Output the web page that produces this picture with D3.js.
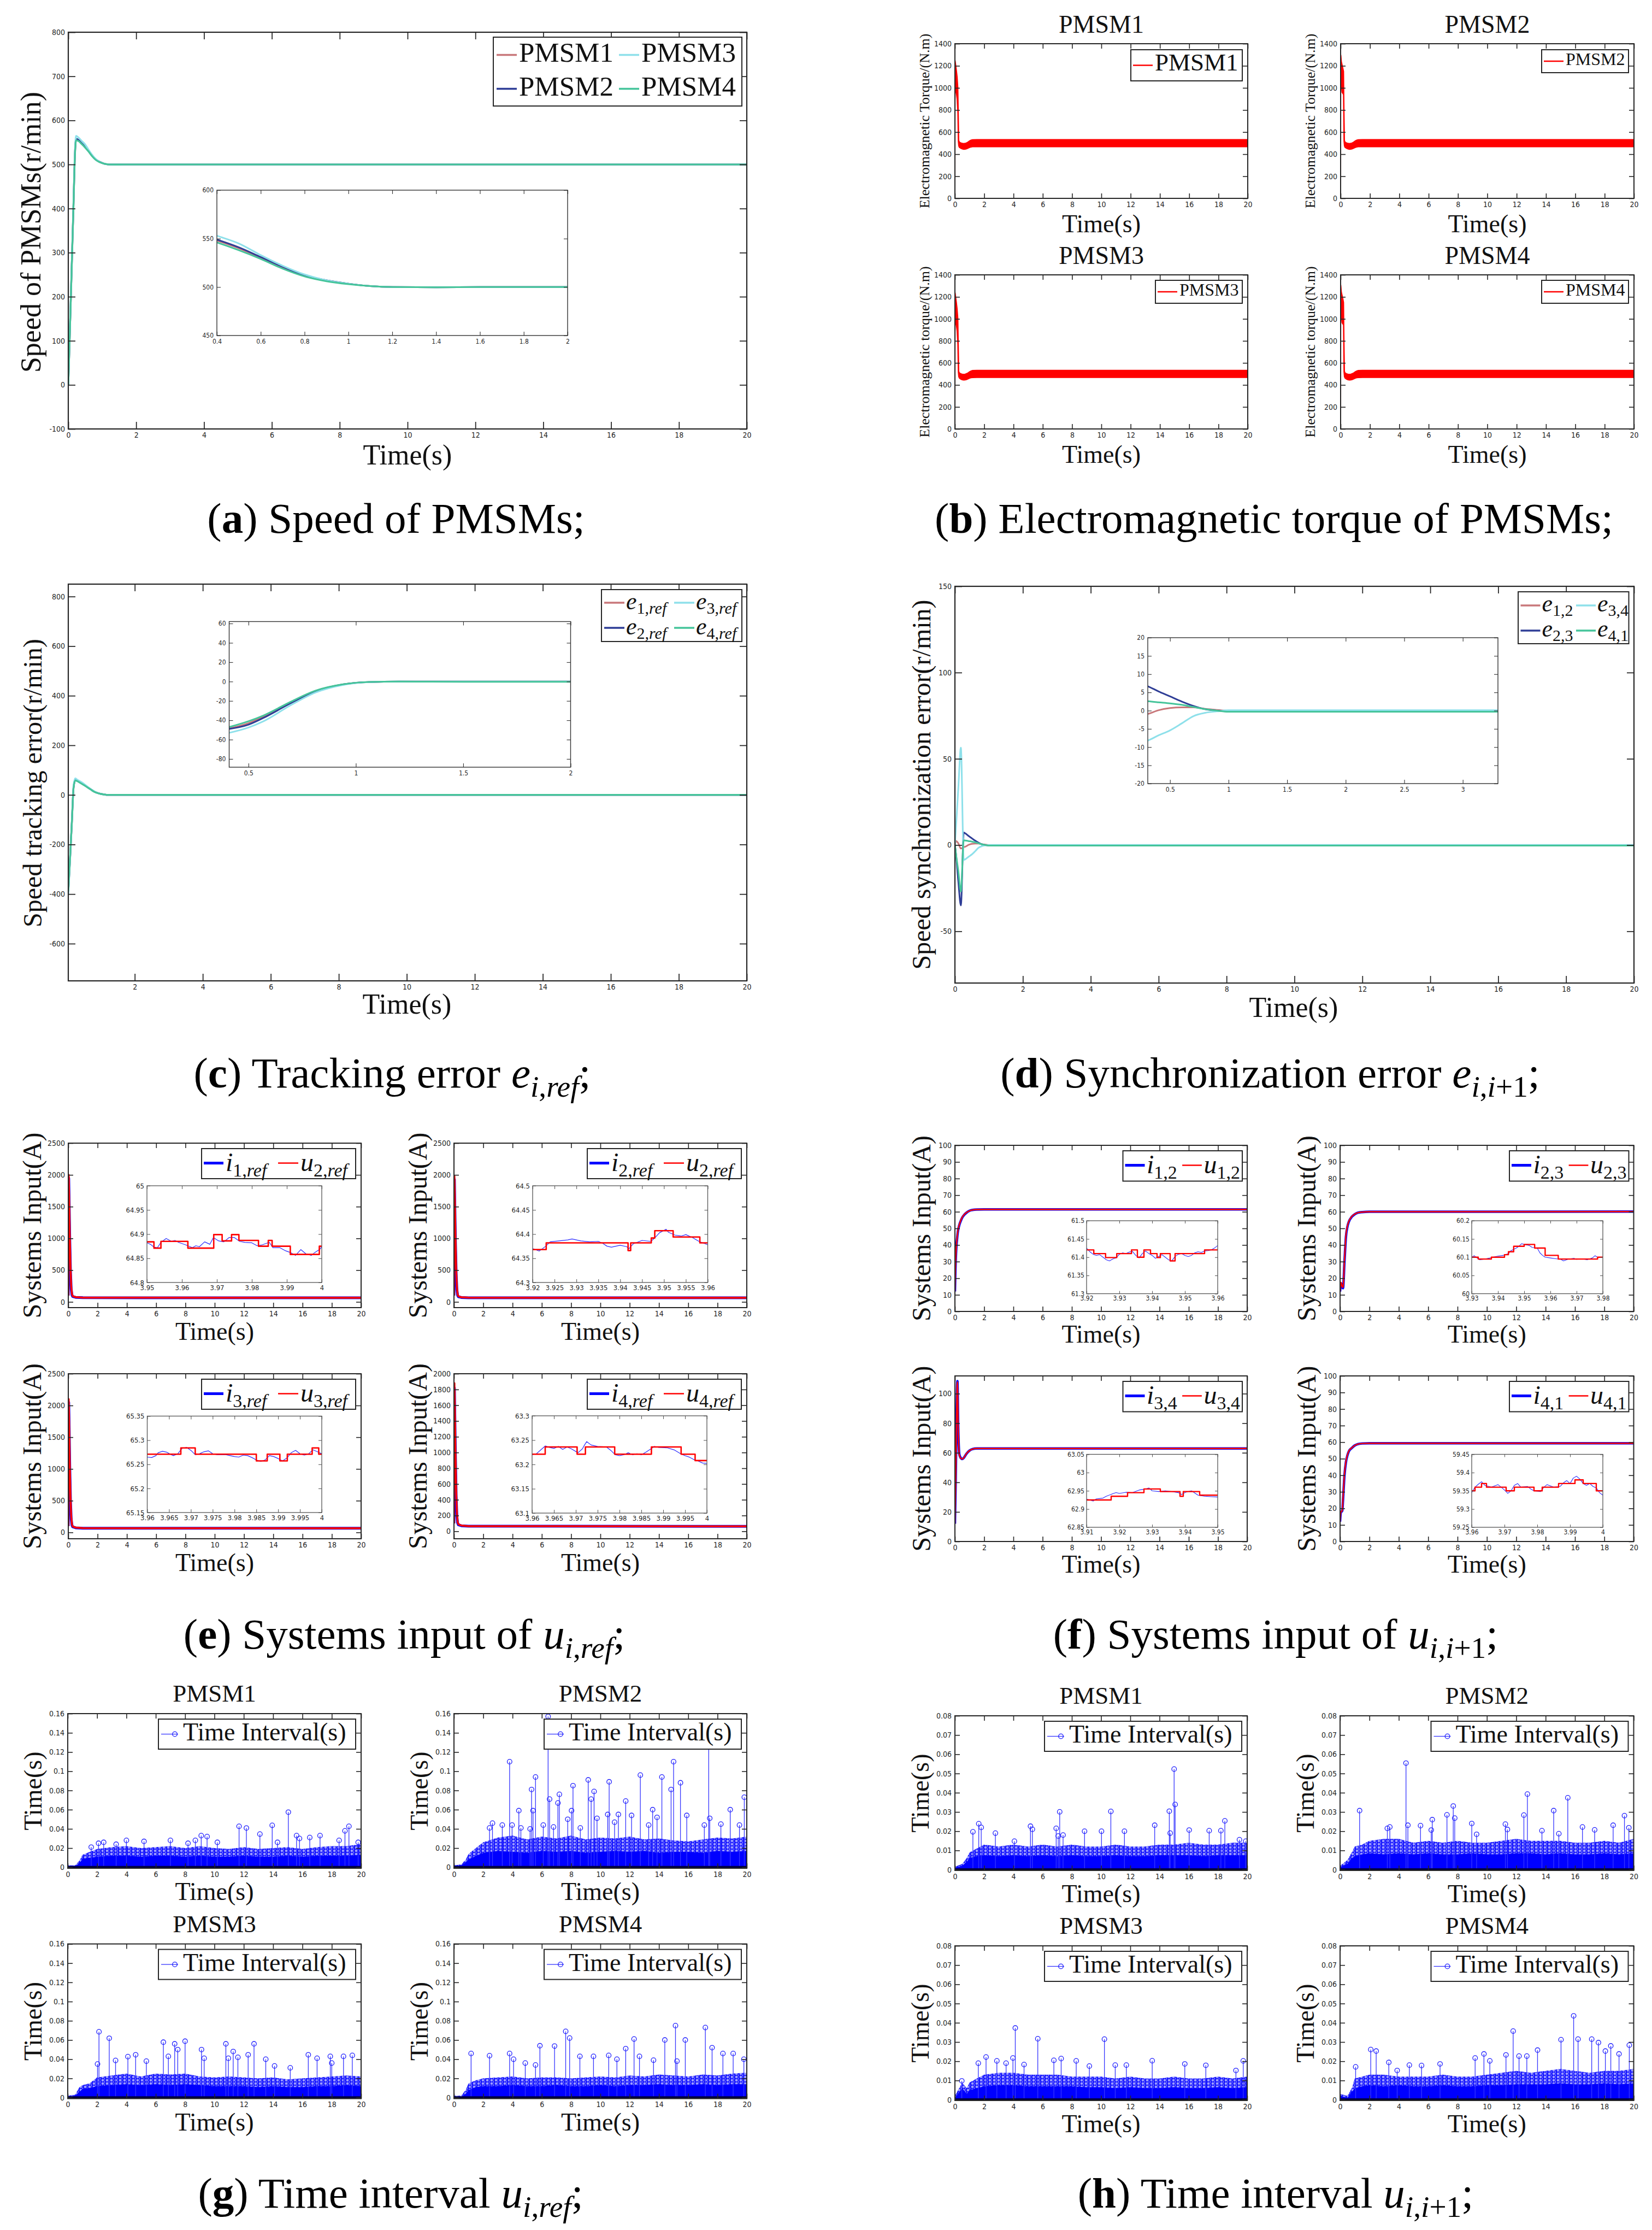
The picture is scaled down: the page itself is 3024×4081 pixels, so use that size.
<!DOCTYPE html>
<html>
<head>
<meta charset="utf-8">
<script src="https://cdn.jsdelivr.net/npm/d3@7"></script>
<style>
  body { margin: 0; background: #fff; }
  svg { display: block; }
</style>
</head>
<body>
<script>
// ---------------- data ----------------

// tick labels
const ticksT20 = [0, 2, 4, 6, 8, 10, 12, 14, 16, 18, 20];
const ticksT20no0 = [2, 4, 6, 8, 10, 12, 14, 16, 18, 20];
const speedTicksY = [-100, 0, 100, 200, 300, 400, 500, 600, 700, 800];
const speedZoomTicksX = [0.4, 0.6, 0.8, 1, 1.2, 1.4, 1.6, 1.8, 2];
const speedZoomTicksY = [450, 500, 550, 600];
const torqueTicksY = [0, 200, 400, 600, 800, 1000, 1200, 1400];
const trackTicksY = [-600, -400, -200, 0, 200, 400, 600, 800];
const trackZoomTicksX = [0.5, 1, 1.5, 2];
const trackZoomTicksY = [-80, -60, -40, -20, 0, 20, 40, 60];
const syncTicksY = [-50, 0, 50, 100, 150];
const syncZoomTicksX = [0.5, 1, 1.5, 2, 2.5, 3];
const syncZoomTicksY = [-20, -15, -10, -5, 0, 5, 10, 15, 20];
const refInputTicksY = [0, 500, 1000, 1500, 2000, 2500];
const refInputTicksY4 = [0, 200, 400, 600, 800, 1000, 1200, 1400, 1600, 1800, 2000];
const syncInputTicksY = [0, 10, 20, 30, 40, 50, 60, 70, 80, 90, 100];
const syncInputTicksY3 = [0, 20, 40, 60, 80, 100];
const intervalTicksG = [0, 0.02, 0.04, 0.06, 0.08, 0.1, 0.12, 0.14, 0.16];
const intervalTicksH = [0, 0.01, 0.02, 0.03, 0.04, 0.05, 0.06, 0.07, 0.08];
const e1ZoomTicksX = [3.95, 3.96, 3.97, 3.98, 3.99, 4];
const e1ZoomTicksY = [64.8, 64.85, 64.9, 64.95, 65];
const e2ZoomTicksX = [3.92, 3.925, 3.93, 3.935, 3.94, 3.945, 3.95, 3.955, 3.96];
const e2ZoomTicksY = [64.3, 64.35, 64.4, 64.45, 64.5];
const e3ZoomTicksX = [3.96, 3.965, 3.97, 3.975, 3.98, 3.985, 3.99, 3.995, 4];
const e3ZoomTicksY = [65.15, 65.2, 65.25, 65.3, 65.35];
const e4ZoomTicksY = [63.1, 63.15, 63.2, 63.25, 63.3];
const f1ZoomTicksX = [3.92, 3.93, 3.94, 3.95, 3.96];
const f1ZoomTicksY = [61.3, 61.35, 61.4, 61.45, 61.5];
const f2ZoomTicksX = [3.93, 3.94, 3.95, 3.96, 3.97, 3.98];
const f2ZoomTicksY = [60, 60.05, 60.1, 60.15, 60.2];
const f3ZoomTicksX = [3.91, 3.92, 3.93, 3.94, 3.95];
const f3ZoomTicksY = [62.85, 62.9, 62.95, 63, 63.05];
const f4ZoomTicksX = [3.96, 3.97, 3.98, 3.99, 4];
const f4ZoomTicksY = [59.25, 59.3, 59.35, 59.4, 59.45];

// (a) speed of PMSMs
const speedNames = ['PMSM1', 'PMSM2', 'PMSM3', 'PMSM4'];
const speedT = [0, 0.05, 0.1, 0.15, 0.2, 0.23, 0.3, 0.4, 0.5, 0.6, 0.7, 0.8, 0.9, 1.0, 1.1, 1.2, 1.4, 1.6, 2.0, 20];
const speed1 = [0, 130, 265, 400, 530, 557, 555, 548, 540, 530, 520, 512, 507, 503.5, 501, 500, 499.8, 500, 500, 500];
const speed2 = [0, 130, 265, 400, 532, 558, 556, 549, 541, 531, 521, 512, 507, 503.5, 501, 500, 499.8, 500, 500, 500];
const speed3 = [0, 132, 268, 405, 537, 565, 561, 553, 545, 533, 522, 513, 507, 503.5, 501, 500, 499.8, 500, 500, 500];
const speed4 = [0, 128, 262, 396, 527, 555, 553, 546, 538, 529, 519, 511, 506, 503, 501, 500, 499.8, 500, 500, 500];

// (b) electromagnetic torque, upper / lower edge of the ripple band
const torqueT = [0, 0.005, 0.02, 0.05, 0.1, 0.15, 0.2, 0.23, 0.26, 0.3, 0.4, 0.5, 0.6, 0.7, 0.8, 0.9, 1.0, 1.1, 1.2, 1.5, 20];
const tq1Hi = [0, 1250, 1240, 1210, 1160, 1100, 1000, 760, 525, 510, 502, 498, 496, 498, 503, 510, 520, 527, 531, 532, 532];
const tq1Lo = [0, 880, 1020, 990, 950, 900, 780, 520, 475, 462, 453, 447, 444, 445, 449, 455, 461, 465, 467, 468, 468];
const tq2Hi = [0, 1300, 1290, 1240, 1210, 1180, 1150, 800, 525, 510, 502, 498, 496, 498, 503, 510, 520, 527, 531, 532, 532];
const tq2Lo = [0, 950, 1080, 1050, 960, 950, 940, 520, 475, 462, 453, 447, 444, 445, 449, 455, 461, 465, 467, 468, 468];
const tq3Hi = [0, 1240, 1230, 1200, 1150, 1090, 1000, 760, 525, 510, 502, 498, 496, 498, 503, 510, 520, 527, 531, 532, 532];
const tq3Lo = [0, 870, 1010, 980, 940, 890, 770, 520, 475, 462, 453, 447, 444, 445, 449, 455, 461, 465, 467, 468, 468];
const tq4Hi = [0, 1310, 1295, 1245, 1215, 1185, 1150, 800, 525, 510, 502, 498, 496, 498, 503, 510, 520, 527, 531, 532, 532];
const tq4Lo = [0, 960, 1090, 1050, 965, 955, 945, 520, 475, 462, 453, 447, 444, 445, 449, 455, 461, 465, 467, 468, 468];

// (c) speed tracking error
const trackT = [0.045, 0.1, 0.15, 0.2, 0.25, 0.3, 0.4, 0.5, 0.6, 0.7, 0.8, 0.9, 1.0, 1.1, 1.2, 2, 20];
const track1 = [-390, -250, -110, 30, 60, 57, 50, 41, 32, 23, 14, 8, 4, 1.5, 0, 0, 0];
const track2 = [-392, -250, -110, 30, 61, 58, 51, 42, 32, 23, 14, 8, 4, 1.5, 0, 0, 0];
const track3 = [-400, -255, -105, 38, 67, 62, 54, 45, 34, 24, 15, 8, 4, 1.5, 0, 0, 0];
const track4 = [-388, -248, -112, 28, 58, 56, 48, 40, 31, 22, 13, 7.5, 4, 1.5, 0, 0, 0];
const trackZoomT = [0.41, 0.5, 0.57, 0.7, 0.81, 0.94, 1.06, 1.2, 1.5, 2];
const trackZoom1 = [-48.5, -43, -36, -21, -10, -3, -0.5, 0, 0, 0];
const trackZoom2 = [-49, -44.5, -37.5, -22, -10.5, -3, -0.5, 0, 0, 0];
const trackZoom3 = [-53, -47.5, -41, -24, -11.5, -3.5, -0.6, 0, 0, 0];
const trackZoom4 = [-47, -41, -35, -20.5, -9.5, -2.8, -0.4, 0, -0.3, -0.3];

// (d) speed synchronization error
const syncT = [0, 0.03, 0.1, 0.175, 0.26, 0.31, 0.4, 0.5, 0.6, 0.7, 0.8, 0.9, 1.0, 1.2, 1.5, 2, 3, 20];
const sync12 = [0, 2.4, 1, -2, -1.2, -0.9, 0.1, 0.7, 0.9, 0.9, 0.5, 0.2, 0, -0.1, -0.1, -0.1, -0.1, -0.1];
const sync23 = [0, -5, -21, -35, 7.3, 6.7, 5.3, 3.9, 2.5, 1.3, 0.4, 0, -0.2, -0.15, -0.1, -0.1, -0.1, -0.1];
const sync34 = [0, 10, 33, 56.5, -8.6, -8.2, -6.8, -5.4, -3.5, -1.5, -0.6, -0.2, 0.1, 0.1, 0.1, 0.1, 0.1, 0.1];
const sync41 = [0, -5, -15, -27, 2.8, 2.6, 2.3, 2.0, 1.6, 1.0, 0.4, 0, -0.3, -0.3, -0.3, -0.3, -0.3, -0.3];

// (e) systems input u_{i,ref}
const refInT = [0, 0.015, 0.03, 0.06, 0.1, 0.15, 0.2, 0.25, 0.3, 0.5, 1, 20];
const ref1i = [100, 1750, 1950, 1550, 1000, 480, 200, 110, 85, 72, 66, 65];
const ref1u = [100, 1900, 2000, 1650, 1080, 550, 240, 125, 92, 75, 67, 65];
const ref2i = [100, 1750, 1930, 1500, 950, 450, 190, 105, 82, 70, 65, 64.4];
const ref2u = [100, 1850, 1980, 1600, 1050, 520, 230, 120, 90, 73, 66, 64.4];
const ref3i = [100, 1850, 2050, 1650, 1050, 500, 210, 115, 88, 73, 66, 65.3];
const ref3u = [100, 2000, 2100, 1750, 1120, 560, 250, 128, 94, 76, 67, 65.3];
const ref4i = [100, 1600, 1820, 1450, 950, 450, 190, 105, 82, 70, 64, 63.2];
const ref4u = [100, 1750, 1880, 1550, 1020, 520, 230, 120, 90, 73, 65, 63.2];

const e1BlueT = [3.95, 3.951, 3.952, 3.953, 3.954, 3.9555, 3.957, 3.958, 3.959, 3.961, 3.963, 3.964, 3.965, 3.9665, 3.968, 3.969, 3.9705, 3.972, 3.9735, 3.975, 3.9765, 3.978, 3.98, 3.9815, 3.983, 3.985, 3.986, 3.988, 3.9895, 3.991, 3.9925, 3.994, 3.9955, 3.997, 3.998, 3.9995, 4.0];
const e1BlueV = [64.882, 64.879, 64.873, 64.872, 64.883, 64.891, 64.885, 64.887, 64.883, 64.878, 64.872, 64.876, 64.874, 64.884, 64.879, 64.893, 64.886, 64.884, 64.893, 64.893, 64.885, 64.883, 64.882, 64.876, 64.878, 64.883, 64.872, 64.872, 64.866, 64.862, 64.856, 64.868, 64.859, 64.856, 64.862, 64.869, 64.874];
const e1RedT = [3.95, 3.952, 3.954, 3.9617, 3.9691, 3.9715, 3.9742, 3.9763, 3.9819, 3.9847, 3.9858, 3.991, 3.9993, 4.0];
const e1RedV = [64.884, 64.871, 64.885, 64.871, 64.899, 64.886, 64.899, 64.887, 64.875, 64.887, 64.875, 64.858, 64.875, 64.875];
const e2BlueT = [3.92, 3.9215, 3.923, 3.924, 3.926, 3.928, 3.929, 3.931, 3.933, 3.935, 3.936, 3.937, 3.938, 3.94, 3.9415, 3.942, 3.943, 3.945, 3.947, 3.948, 3.949, 3.9505, 3.951, 3.9525, 3.954, 3.955, 3.9565, 3.958, 3.96];
const e2BlueV = [64.37, 64.365, 64.375, 64.384, 64.386, 64.388, 64.39, 64.386, 64.384, 64.385, 64.381, 64.375, 64.373, 64.377, 64.374, 64.37, 64.38, 64.387, 64.385, 64.393, 64.403, 64.41, 64.404, 64.398, 64.396, 64.399, 64.393, 64.385, 64.378];
const e2RedT = [3.92, 3.9231, 3.9418, 3.9424, 3.9471, 3.9479, 3.9521, 3.9582, 3.96];
const e2RedV = [64.368, 64.382, 64.366, 64.382, 64.392, 64.407, 64.394, 64.382, 64.382];
const e3BlueT = [3.96, 3.961, 3.962, 3.9625, 3.9635, 3.9645, 3.9655, 3.966, 3.967, 3.968, 3.969, 3.97, 3.971, 3.972, 3.973, 3.974, 3.975, 3.976, 3.978, 3.98, 3.981, 3.982, 3.983, 3.984, 3.985, 3.986, 3.987, 3.988, 3.989, 3.99, 3.991, 3.992, 3.993, 3.994, 3.995, 3.996, 3.997, 3.998, 3.999, 4.0];
const e3BlueV = [65.265, 65.264, 65.268, 65.274, 65.277, 65.275, 65.27, 65.268, 65.272, 65.283, 65.285, 65.279, 65.27, 65.272, 65.276, 65.278, 65.272, 65.27, 65.27, 65.266, 65.265, 65.269, 65.268, 65.264, 65.259, 65.256, 65.259, 65.268, 65.266, 65.262, 65.257, 65.263, 65.274, 65.279, 65.272, 65.269, 65.272, 65.28, 65.276, 65.272];
const e3RedT = [3.96, 3.9677, 3.971, 3.985, 3.9875, 3.9904, 3.9921, 3.9978, 3.9993, 4.0];
const e3RedV = [65.271, 65.284, 65.271, 65.257, 65.271, 65.257, 65.271, 65.284, 65.271, 65.271];
const e4BlueT = [3.96, 3.961, 3.962, 3.963, 3.964, 3.965, 3.966, 3.967, 3.968, 3.969, 3.9705, 3.9715, 3.972, 3.9725, 3.9735, 3.975, 3.977, 3.978, 3.979, 3.98, 3.981, 3.982, 3.983, 3.984, 3.985, 3.986, 3.987, 3.988, 3.989, 3.991, 3.9925, 3.994, 3.995, 3.996, 3.997, 3.998, 3.999, 4.0];
const e4BlueV = [63.22, 63.222, 63.23, 63.238, 63.235, 63.233, 63.237, 63.231, 63.236, 63.232, 63.224, 63.232, 63.24, 63.247, 63.24, 63.237, 63.236, 63.229, 63.22, 63.218, 63.22, 63.224, 63.22, 63.222, 63.22, 63.225, 63.231, 63.237, 63.235, 63.234, 63.23, 63.222, 63.218, 63.215, 63.21, 63.207, 63.203, 63.202];
const e4RedT = [3.96, 3.963, 3.9703, 3.9722, 3.9789, 3.9873, 3.9941, 3.9973, 4.0];
const e4RedV = [63.221, 63.236, 63.221, 63.236, 63.221, 63.236, 63.221, 63.208, 63.208];

// (f) systems input u_{i,i+1}
const syncInT = [0, 0.03, 0.06, 0.1, 0.15, 0.2, 0.3, 0.4, 0.5, 0.6, 0.8, 1.0, 1.2, 1.5, 2, 20];
const in12i = [12, 24, 32, 39, 44, 48, 52, 54.5, 56.5, 57.8, 59.5, 60.6, 61.1, 61.35, 61.4, 61.4];
const in12u = [12, 25, 33, 39.5, 44.5, 48.5, 52.3, 54.8, 56.7, 58, 59.6, 60.6, 61.1, 61.35, 61.4, 61.4];
const in23i = [12, 15, 17, 16, 14.5, 14, 30, 45, 51, 54, 57, 58.5, 59.4, 59.8, 60, 60.1];
const in23u = [12, 15.5, 17.5, 16.5, 15, 14.5, 31, 46, 51.5, 54.3, 57.2, 58.6, 59.4, 59.8, 60, 60.1];
const in34T = [0, 0.05, 0.1, 0.17, 0.22, 0.3, 0.4, 0.5, 0.6, 0.8, 1.0, 1.2, 1.5, 2, 20];
const in34i = [12, 40, 75, 108.5, 80, 59, 56.5, 55.8, 56.5, 59.5, 61.5, 62.5, 62.9, 62.95, 62.95];
const in34u = [12, 41, 76, 108, 79, 58.5, 56.3, 55.8, 56.6, 59.6, 61.5, 62.5, 62.9, 62.95, 62.95];
const in41i = [12, 16, 18, 18, 18.5, 25, 40, 48, 52, 54.5, 56.5, 58, 58.8, 59.2, 59.35, 59.35];
const in41u = [12, 16.5, 18, 18.2, 18.8, 26, 41, 48.5, 52.3, 54.7, 56.6, 58, 58.8, 59.2, 59.35, 59.35];

const f1BlueT = [3.92, 3.921, 3.922, 3.923, 3.924, 3.925, 3.926, 3.927, 3.928, 3.929, 3.93, 3.931, 3.932, 3.933, 3.934, 3.935, 3.936, 3.937, 3.938, 3.939, 3.94, 3.941, 3.942, 3.943, 3.944, 3.945, 3.946, 3.947, 3.948, 3.949, 3.95, 3.951, 3.952, 3.953, 3.954, 3.955, 3.956, 3.957, 3.958, 3.959, 3.96];
const f1BlueV = [61.425, 61.415, 61.408, 61.405, 61.407, 61.4, 61.393, 61.39, 61.395, 61.398, 61.408, 61.412, 61.41, 61.414, 61.416, 61.405, 61.398, 61.41, 61.417, 61.41, 61.405, 61.397, 61.402, 61.407, 61.4, 61.393, 61.39, 61.402, 61.408, 61.41, 61.405, 61.402, 61.405, 61.412, 61.415, 61.413, 61.417, 61.418, 61.42, 61.425, 61.432];
const f1RedT = [3.92, 3.9222, 3.9258, 3.9292, 3.9337, 3.9355, 3.9375, 3.9395, 3.9415, 3.9425, 3.9455, 3.947, 3.956, 3.96];
const f1RedV = [61.42, 61.41, 61.399, 61.41, 61.42, 61.4, 61.42, 61.41, 61.399, 61.41, 61.39, 61.41, 61.42, 61.42];
const f2BlueT = [3.93, 3.931, 3.932, 3.933, 3.935, 3.937, 3.938, 3.94, 3.942, 3.944, 3.945, 3.947, 3.948, 3.949, 3.95, 3.952, 3.953, 3.955, 3.956, 3.957, 3.958, 3.96, 3.962, 3.964, 3.965, 3.967, 3.969, 3.97, 3.972, 3.974, 3.976, 3.977, 3.978, 3.98];
const f2BlueV = [60.1, 60.104, 60.098, 60.093, 60.095, 60.098, 60.1, 60.103, 60.105, 60.11, 60.118, 60.125, 60.13, 60.137, 60.135, 60.132, 60.127, 60.125, 60.112, 60.105, 60.1, 60.098, 60.096, 60.094, 60.09, 60.095, 60.097, 60.094, 60.096, 60.093, 60.098, 60.104, 60.1, 60.099];
const f2RedT = [3.93, 3.9325, 3.9375, 3.9425, 3.944, 3.946, 3.95, 3.954, 3.958, 3.963, 3.978, 3.98];
const f2RedV = [60.1, 60.095, 60.1, 60.107, 60.115, 60.13, 60.135, 60.125, 60.105, 60.095, 60.1, 60.1];
const f3BlueT = [3.91, 3.911, 3.912, 3.913, 3.915, 3.916, 3.918, 3.919, 3.92, 3.922, 3.924, 3.926, 3.928, 3.929, 3.93, 3.932, 3.934, 3.936, 3.938, 3.939, 3.94, 3.941, 3.942, 3.943, 3.944, 3.946, 3.948, 3.95];
const f3BlueV = [62.927, 62.925, 62.922, 62.928, 62.93, 62.935, 62.942, 62.945, 62.943, 62.946, 62.945, 62.952, 62.955, 62.958, 62.95, 62.948, 62.95, 62.948, 62.945, 62.94, 62.945, 62.948, 62.95, 62.944, 62.938, 62.935, 62.934, 62.933];
const f3RedT = [3.91, 3.9175, 3.9225, 3.9275, 3.9325, 3.9385, 3.9395, 3.9445, 3.95];
const f3RedV = [62.925, 62.935, 62.945, 62.955, 62.948, 62.935, 62.948, 62.938, 62.938];
const f4BlueT = [3.96, 3.961, 3.962, 3.963, 3.964, 3.966, 3.968, 3.969, 3.97, 3.971, 3.972, 3.973, 3.974, 3.975, 3.977, 3.978, 3.979, 3.981, 3.982, 3.983, 3.985, 3.987, 3.988, 3.989, 3.99, 3.991, 3.992, 3.993, 3.994, 3.995, 3.996, 3.997, 3.998, 3.999, 4.0];
const f4BlueV = [59.345, 59.36, 59.368, 59.375, 59.365, 59.36, 59.367, 59.36, 59.352, 59.343, 59.35, 59.365, 59.37, 59.36, 59.362, 59.355, 59.35, 59.348, 59.36, 59.367, 59.36, 59.362, 59.372, 59.378, 59.37, 59.385, 59.39, 59.382, 59.37, 59.365, 59.37, 59.362, 59.358, 59.345, 59.338];
const f4RedT = [3.96, 3.961, 3.963, 3.9645, 3.9705, 3.973, 3.979, 3.9815, 3.9865, 3.9915, 3.994, 3.998, 4.0];
const f4RedV = [59.35, 59.36, 59.37, 59.36, 59.35, 59.36, 59.35, 59.36, 59.37, 59.38, 59.37, 59.35, 59.35];

// (g)/(h) event-triggered time intervals: dense body (solid part and marker cloud) + tall stems
const bandT = [0, 0.5, 0.8, 1, 1.5, 2, 3, 4, 5, 6, 7, 8, 9, 10, 11, 12, 13, 14, 15, 16, 17, 18, 19, 20];
const g1Solid = [0.001, 0.001, 0.004, 0.009, 0.01, 0.011, 0.012, 0.012, 0.011, 0.012, 0.012, 0.011, 0.012, 0.011, 0.011, 0.012, 0.011, 0.011, 0.012, 0.011, 0.012, 0.012, 0.012, 0.013];
const g1Cloud = [0.002, 0.002, 0.007, 0.013, 0.016, 0.019, 0.021, 0.022, 0.02, 0.021, 0.022, 0.02, 0.022, 0.02, 0.019, 0.021, 0.019, 0.02, 0.021, 0.019, 0.021, 0.022, 0.022, 0.024];
const g2Solid = [0.001, 0.002, 0.005, 0.008, 0.012, 0.015, 0.017, 0.016, 0.015, 0.017, 0.016, 0.017, 0.015, 0.016, 0.017, 0.016, 0.017, 0.015, 0.016, 0.016, 0.015, 0.017, 0.016, 0.017];
const g2Cloud = [0.002, 0.003, 0.008, 0.014, 0.02, 0.026, 0.031, 0.033, 0.029, 0.032, 0.03, 0.033, 0.029, 0.031, 0.03, 0.032, 0.029, 0.03, 0.028, 0.027, 0.029, 0.031, 0.03, 0.032];
const g3Solid = [0.001, 0.002, 0.006, 0.009, 0.01, 0.012, 0.013, 0.014, 0.013, 0.014, 0.013, 0.014, 0.013, 0.012, 0.012, 0.012, 0.011, 0.012, 0.011, 0.011, 0.012, 0.012, 0.013, 0.012];
const g3Cloud = [0.002, 0.003, 0.011, 0.013, 0.015, 0.021, 0.023, 0.025, 0.022, 0.025, 0.024, 0.025, 0.022, 0.021, 0.022, 0.021, 0.02, 0.021, 0.019, 0.02, 0.021, 0.022, 0.023, 0.022];
const g4Solid = [0.001, 0.001, 0.004, 0.008, 0.011, 0.012, 0.012, 0.013, 0.012, 0.012, 0.013, 0.012, 0.012, 0.013, 0.012, 0.013, 0.013, 0.014, 0.013, 0.013, 0.014, 0.013, 0.014, 0.014];
const g4Cloud = [0.002, 0.002, 0.008, 0.015, 0.018, 0.02, 0.021, 0.022, 0.02, 0.021, 0.021, 0.02, 0.021, 0.022, 0.021, 0.023, 0.022, 0.024, 0.023, 0.022, 0.024, 0.023, 0.025, 0.026];
const h1Solid = [0.001, 0.002, 0.004, 0.006, 0.007, 0.0075, 0.007, 0.0075, 0.007, 0.0075, 0.007, 0.0075, 0.007, 0.007, 0.0075, 0.007, 0.007, 0.0075, 0.0075, 0.0075, 0.007, 0.0075, 0.0075, 0.0075];
const h1Cloud = [0.0015, 0.003, 0.006, 0.009, 0.011, 0.013, 0.012, 0.013, 0.012, 0.013, 0.012, 0.013, 0.012, 0.012, 0.013, 0.012, 0.012, 0.013, 0.013, 0.014, 0.013, 0.013, 0.014, 0.014];
const h2Solid = [0.001, 0.003, 0.006, 0.007, 0.008, 0.0085, 0.008, 0.0085, 0.008, 0.0085, 0.008, 0.008, 0.0085, 0.008, 0.008, 0.0085, 0.0085, 0.008, 0.0085, 0.008, 0.008, 0.0085, 0.008, 0.0085];
const h2Cloud = [0.002, 0.005, 0.009, 0.012, 0.013, 0.015, 0.016, 0.016, 0.014, 0.015, 0.014, 0.015, 0.014, 0.014, 0.015, 0.016, 0.015, 0.015, 0.015, 0.014, 0.014, 0.015, 0.014, 0.016];
const h3Solid = [0.001, 0.006, 0.003, 0.005, 0.006, 0.007, 0.0075, 0.0075, 0.007, 0.007, 0.007, 0.007, 0.0065, 0.0065, 0.006, 0.0065, 0.006, 0.006, 0.0065, 0.006, 0.006, 0.0065, 0.006, 0.0065];
const h3Cloud = [0.002, 0.009, 0.006, 0.009, 0.011, 0.013, 0.014, 0.014, 0.013, 0.013, 0.013, 0.012, 0.012, 0.012, 0.011, 0.012, 0.011, 0.011, 0.012, 0.011, 0.011, 0.012, 0.011, 0.012];
const h4Solid = [0.002, 0.001, 0.004, 0.006, 0.007, 0.0075, 0.007, 0.0075, 0.007, 0.007, 0.0075, 0.007, 0.007, 0.0075, 0.0075, 0.008, 0.008, 0.008, 0.0085, 0.008, 0.008, 0.0085, 0.008, 0.0085];
const h4Cloud = [0.003, 0.002, 0.006, 0.011, 0.012, 0.013, 0.013, 0.012, 0.012, 0.012, 0.013, 0.012, 0.012, 0.013, 0.014, 0.015, 0.014, 0.015, 0.016, 0.015, 0.014, 0.015, 0.015, 0.016];

const g1PeakT = [1.6, 2.1, 2.45, 3.3, 4.0, 5.2, 7.0, 8.2, 8.7, 9.1, 9.5, 10.2, 11.68, 12.18, 13.1, 13.94, 14.3, 15.04, 15.6, 15.8, 16.5, 17.2, 18.5, 18.9, 19.17, 19.8];
const g1PeakV = [0.021, 0.025, 0.026, 0.024, 0.028, 0.027, 0.028, 0.025, 0.028, 0.033, 0.032, 0.026, 0.0427, 0.0409, 0.0346, 0.0437, 0.026, 0.0574, 0.033, 0.030, 0.031, 0.033, 0.028, 0.038, 0.0427, 0.026];
const g2PeakT = [2.43, 2.63, 3.3, 3.8, 3.97, 4.43, 4.57, 5.2, 5.3, 5.4, 5.57, 6.1, 6.43, 6.53, 6.8, 7.1, 7.2, 7.77, 8.03, 8.13, 8.63, 9.17, 9.37, 9.57, 9.77, 10.5, 10.6, 10.97, 11.23, 11.73, 12.13, 12.73, 13.3, 13.57, 13.87, 14.2, 14.83, 15.0, 15.47, 15.9, 17.1, 17.4, 17.47, 18.23, 18.87, 19.5, 19.83];
const g2PeakV = [0.041, 0.046, 0.044, 0.110, 0.044, 0.059, 0.041, 0.040, 0.081, 0.059, 0.094, 0.044, 0.157, 0.071, 0.042, 0.067, 0.076, 0.050, 0.059, 0.085, 0.041, 0.091, 0.071, 0.079, 0.051, 0.055, 0.089, 0.047, 0.055, 0.069, 0.054, 0.096, 0.044, 0.060, 0.052, 0.094, 0.081, 0.110, 0.088, 0.054, 0.044, 0.13, 0.051, 0.045, 0.060, 0.044, 0.073];
const g3PeakT = [2.03, 2.13, 2.83, 3.26, 4.1, 4.63, 5.36, 6.52, 6.86, 7.29, 7.5, 8.0, 9.12, 9.3, 10.78, 10.95, 11.28, 11.6, 12.3, 12.7, 13.5, 14.1, 15.17, 16.4, 17.0, 17.9, 18.0, 18.8, 19.4];
const g3PeakV = [0.035, 0.0686, 0.0618, 0.0387, 0.0427, 0.0446, 0.038, 0.0577, 0.043, 0.056, 0.050, 0.0587, 0.050, 0.041, 0.056, 0.041, 0.048, 0.042, 0.0446, 0.056, 0.040, 0.033, 0.031, 0.0446, 0.041, 0.043, 0.036, 0.043, 0.044];
const g4PeakT = [1.17, 2.43, 3.8, 4.07, 4.87, 5.57, 5.87, 6.87, 7.63, 7.9, 8.6, 9.53, 10.57, 11.13, 11.73, 12.3, 12.67, 13.63, 14.4, 15.13, 15.23, 15.8, 17.17, 17.63, 18.37, 19.07, 19.8];
const g4PeakV = [0.046, 0.0437, 0.046, 0.040, 0.036, 0.034, 0.054, 0.0537, 0.069, 0.062, 0.043, 0.043, 0.044, 0.040, 0.051, 0.061, 0.043, 0.039, 0.060, 0.075, 0.038, 0.060, 0.073, 0.052, 0.046, 0.046, 0.040];
const h1PeakT = [1.23, 1.63, 1.8, 2.77, 4.07, 5.17, 5.3, 6.93, 7.07, 7.17, 7.4, 8.87, 10.03, 10.67, 11.6, 13.67, 14.67, 14.73, 15.0, 15.07, 16.03, 17.4, 18.2, 18.47, 19.47, 19.9];
const h1PeakV = [0.0197, 0.0239, 0.022, 0.019, 0.0148, 0.0226, 0.021, 0.0215, 0.0175, 0.0301, 0.018, 0.020, 0.020, 0.0303, 0.020, 0.0231, 0.0304, 0.019, 0.0523, 0.0339, 0.0206, 0.0203, 0.0203, 0.0254, 0.0156, 0.0148];
const h2PeakT = [1.33, 3.22, 3.39, 4.49, 4.62, 5.48, 6.21, 6.28, 7.28, 7.71, 7.81, 8.97, 9.3, 11.26, 11.4, 12.52, 12.76, 13.75, 14.55, 14.9, 15.51, 16.51, 17.34, 18.6, 19.37, 19.67];
const h2PeakV = [0.0307, 0.0215, 0.0222, 0.0554, 0.0231, 0.0229, 0.0206, 0.026, 0.0285, 0.0331, 0.0268, 0.024, 0.0184, 0.0237, 0.0209, 0.0284, 0.0393, 0.0203, 0.0307, 0.0187, 0.0374, 0.0222, 0.0207, 0.0231, 0.0281, 0.0218];
const h3PeakT = [0.47, 1.6, 2.13, 2.87, 3.5, 3.97, 4.13, 4.73, 5.67, 6.77, 7.27, 8.3, 9.2, 10.23, 10.97, 11.73, 13.5, 15.73, 17.17, 19.23, 19.73];
const h3PeakV = [0.0098, 0.019, 0.0222, 0.0202, 0.019, 0.0217, 0.0373, 0.0183, 0.0317, 0.0205, 0.0214, 0.0202, 0.0175, 0.0315, 0.018, 0.018, 0.0203, 0.0186, 0.0179, 0.0152, 0.0202];
const h4PeakT = [1.06, 2.09, 2.46, 3.32, 3.89, 4.72, 5.55, 6.81, 9.2, 9.8, 10.2, 11.3, 11.79, 12.19, 12.72, 13.45, 15.05, 15.91, 16.21, 17.14, 17.6, 18.07, 18.44, 19.0, 19.7];
const h4PeakV = [0.0171, 0.0261, 0.0253, 0.0194, 0.0152, 0.018, 0.0178, 0.0186, 0.0217, 0.0238, 0.0202, 0.0233, 0.0357, 0.0227, 0.0227, 0.0258, 0.0312, 0.0436, 0.0315, 0.0315, 0.0297, 0.0253, 0.028, 0.0238, 0.0284];

// ---------------- drawing ----------------
const SERIF = '"Liberation Serif", "Times New Roman", serif';
const TICKF = '"Liberation Sans Narrow", "DejaVu Sans Condensed", "Liberation Sans", sans-serif';
const lineColors = ['#c8777a', '#2e3d96', '#8ee0ea', '#45c49a'];
const BLUE = '#0000ff', RED = '#ff0000';

const svg = d3.select('body').append('svg')
    .attr('width', 3024).attr('height', 4081)
    .style('background', '#fff');
const defs = svg.append('defs');

// texture for the packed stems + circle markers
const tex = defs.append('pattern').attr('id', 'stemTex')
    .attr('patternUnits', 'userSpaceOnUse').attr('width', 8).attr('height', 6);
tex.append('rect').attr('width', 8).attr('height', 6).attr('fill', '#9a9aff');
tex.append('circle').attr('cx', 4).attr('cy', 3).attr('r', 3)
    .attr('fill', 'none').attr('stroke', '#0000ff').attr('stroke-width', 1.1);
tex.append('line').attr('x1', 0.5).attr('x2', 0.5).attr('y1', 0).attr('y2', 6)
    .attr('stroke', '#0000ff').attr('stroke-width', 1);

let clipCount = 0;
const fmt = v => String(+v.toFixed(6));

function mkAxes(o) {
    const x = d3.scaleLinear().domain(o.xd).range([o.l, o.r]);
    const y = d3.scaleLinear().domain(o.yd).range([o.b, o.t]);
    const col = o.col || '#262626', sw = o.sw || 2, tl = o.tl || 9, fs = o.fs || 14, pad = o.pad || 6;
    const g = svg.append('g');
    g.append('rect').attr('x', o.l).attr('y', o.t)
        .attr('width', o.r - o.l).attr('height', o.b - o.t).attr('fill', '#fff');
    const id = 'clip' + (clipCount++);
    defs.append('clipPath').attr('id', id).append('rect')
        .attr('x', o.l).attr('y', o.t).attr('width', o.r - o.l).attr('height', o.b - o.t);
    const plot = g.append('g').attr('clip-path', `url(#${id})`);
    const frame = g.append('g');

    // MATLAB style: ticks inside the box on all four sides
    frame.append('g').attr('transform', `translate(0,${o.b})`)
        .call(d3.axisBottom(x).tickValues(o.xt).tickSize(-tl).tickPadding(pad).tickFormat(fmt));
    frame.append('g').attr('transform', `translate(0,${o.t})`)
        .call(d3.axisTop(x).tickValues(o.xt).tickSize(-tl).tickFormat(''));
    frame.append('g').attr('transform', `translate(${o.l},0)`)
        .call(d3.axisLeft(y).tickValues(o.yt).tickSize(-tl).tickPadding(pad).tickFormat(fmt));
    frame.append('g').attr('transform', `translate(${o.r},0)`)
        .call(d3.axisRight(y).tickValues(o.yt).tickSize(-tl).tickFormat(''));
    frame.selectAll('.domain').remove();
    frame.selectAll('.tick line').attr('stroke', col).attr('stroke-width', sw * 0.8);
    frame.selectAll('.tick text').attr('fill', '#262626')
        .style('font-family', TICKF).style('font-size', fs + 'px');
    frame.append('rect').attr('x', o.l).attr('y', o.t)
        .attr('width', o.r - o.l).attr('height', o.b - o.t)
        .attr('fill', 'none').attr('stroke', col).attr('stroke-width', sw);
    return {x, y, plot};
}

function drawLine(ax, xs, ys, color, w, curve) {
    ax.plot.append('path')
        .datum(xs.map((t, i) => [t, ys[i]]))
        .attr('fill', 'none').attr('stroke', color).attr('stroke-width', w)
        .attr('stroke-linejoin', 'round')
        .attr('d', d3.line().x(d => ax.x(d[0])).y(d => ax.y(d[1])).curve(curve || d3.curveLinear));
}

function drawBand(ax, xs, lo, hi, color) {
    ax.plot.append('path')
        .datum(xs.map((t, i) => [t, lo[i], hi[i]]))
        .attr('fill', color).attr('stroke', color).attr('stroke-width', 2)
        .attr('d', d3.area().x(d => ax.x(d[0])).y0(d => ax.y(d[1])).y1(d => ax.y(d[2])));
}

function drawStems(ax, solid, cloud, pt, pv) {
    const area = d3.area().x(d => ax.x(d[0])).y0(ax.y(0)).y1(d => ax.y(d[1]));
    ax.plot.append('path').datum(bandT.map((t, i) => [t, cloud[i]]))
        .attr('fill', 'url(#stemTex)').attr('d', area);
    ax.plot.append('path').datum(bandT.map((t, i) => [t, solid[i]]))
        .attr('fill', BLUE).attr('d', area);
    const pts = pt.map((t, i) => [t, pv[i]]);
    ax.plot.append('g').selectAll('line').data(pts).enter().append('line')
        .attr('x1', d => ax.x(d[0])).attr('x2', d => ax.x(d[0]))
        .attr('y1', ax.y(0)).attr('y2', d => ax.y(d[1]))
        .attr('stroke', '#3535ff').attr('stroke-width', 1.3);
    ax.plot.append('g').selectAll('circle').data(pts).enter().append('circle')
        .attr('cx', d => ax.x(d[0])).attr('cy', d => ax.y(d[1])).attr('r', 4.3)
        .attr('fill', 'none').attr('stroke', '#2020ff').attr('stroke-width', 1.3);
    ax.plot.append('line')
        .attr('x1', ax.x.range()[0]).attr('x2', ax.x.range()[1])
        .attr('y1', ax.y(0)).attr('y2', ax.y(0))
        .attr('stroke', '#000044').attr('stroke-width', 5);
}

function txt(x, y, s, fs, anchor) {
    return svg.append('text').attr('x', x).attr('y', y).text(s)
        .attr('fill', '#111').attr('text-anchor', anchor || 'start')
        .style('font-family', SERIF).style('font-size', fs + 'px');
}

function yLabel(xc, yc, s, fs) {
    const x = xc + fs * 0.3;
    txt(x, yc, s, fs, 'middle').attr('transform', `rotate(-90,${x},${yc})`);
}

function mathText(x, y, main, sub, fs, sfs, sdy) {
    const t = svg.append('text').attr('x', x).attr('y', y).attr('fill', '#111')
        .style('font-family', SERIF).style('font-size', fs + 'px');
    t.append('tspan').text(main).style('font-style', 'italic');
    sub.match(/[a-z]+|[^a-z]+/g).forEach((r, i) => {
        const s = t.append('tspan').text(r).style('font-size', sfs + 'px')
            .style('font-style', /[a-z]/.test(r) ? 'italic' : 'normal');
        if (i === 0) s.attr('dy', sdy);
    });
    return t;
}

function legBox(x, y, w, h) {
    svg.append('rect').attr('x', x).attr('y', y).attr('width', w).attr('height', h)
        .attr('fill', '#fff').attr('stroke', '#262626').attr('stroke-width', 2);
}

function legLine(x1, x2, y, color, w) {
    svg.append('line').attr('x1', x1).attr('x2', x2).attr('y1', y).attr('y2', y)
        .attr('stroke', color).attr('stroke-width', w);
}

function caption(xc, y, letter, words, main, sub) {
    const fs = 79;
    const t = svg.append('text').attr('x', xc).attr('y', y).attr('text-anchor', 'middle')
        .attr('fill', '#000').style('font-family', SERIF).style('font-size', fs + 'px')
        .style('white-space', 'pre');
    t.append('tspan').text('(');
    t.append('tspan').text(letter).style('font-weight', 'bold');
    t.append('tspan').text(') ' + words + (main ? ' ' : ';'));
    if (main) {
        t.append('tspan').text(main).style('font-style', 'italic');
        sub.match(/[a-z]+|[^a-z]+/g).forEach((r, i) => {
            const s = t.append('tspan').text(r).style('font-size', (fs * 0.7) + 'px')
                .style('font-style', /[a-z]/.test(r) ? 'italic' : 'normal');
            if (i === 0) s.attr('dy', fs * 0.22);
        });
        t.append('tspan').text(';').attr('dy', -fs * 0.22);
    }
}

// ===== (a) speed =====
const speedSeries = [speed1, speed2, speed3, speed4];
const axA = mkAxes({l: 125, r: 1367, t: 59, b: 785, xd: [0, 20], yd: [-100, 800],
    xt: ticksT20, yt: speedTicksY, tl: 13, sw: 2.2, fs: 14});
speedSeries.forEach((s, i) => drawLine(axA, speedT, s, lineColors[i], 3.2, d3.curveMonotoneX));
const axA2 = mkAxes({l: 397, r: 1039, t: 348, b: 614, xd: [0.4, 2], yd: [450, 600],
    xt: speedZoomTicksX, yt: speedZoomTicksY, tl: 7, sw: 1.4, fs: 12, col: '#333'});
speedSeries.forEach((s, i) => drawLine(axA2, speedT, s, lineColors[i], 3, d3.curveMonotoneX));
legBox(903, 68, 455, 126);
[[0, 909, 100.5], [2, 1133, 100.5], [1, 909, 162.5], [3, 1133, 162.5]].forEach(([k, lx, ly]) => {
    legLine(lx, lx + 37, ly, lineColors[k], 3.5);
    txt(lx + 41, ly + 12, speedNames[k], 51);
});
yLabel(58, 425, 'Speed of PMSMs(r/min)', 52);
txt(746, 850, 'Time(s)', 52, 'middle');

// ===== (b) torque =====
const torquePanels = [
    {l: 1748, r: 2284, t: 80, b: 363, k: 0, hi: tq1Hi, lo: tq1Lo, yl: 'Electromagnetic Torque/(N.m)', leg: [2070, 91, 204, 57, 45]},
    {l: 2454, r: 2991, t: 80, b: 363, k: 1, hi: tq2Hi, lo: tq2Lo, yl: 'Electromagnetic Torque/(N.m)', leg: [2822, 91, 159, 42, 32]},
    {l: 1748, r: 2284, t: 503, b: 785, k: 2, hi: tq3Hi, lo: tq3Lo, yl: 'Electromagnetic torque/(N.m)', leg: [2115, 513, 159, 42, 32]},
    {l: 2454, r: 2991, t: 503, b: 785, k: 3, hi: tq4Hi, lo: tq4Lo, yl: 'Electromagnetic torque/(N.m)', leg: [2822, 513, 159, 42, 32]}
];
torquePanels.forEach(p => {
    const ax = mkAxes({l: p.l, r: p.r, t: p.t, b: p.b, xd: [0, 20], yd: [0, 1400],
        xt: ticksT20, yt: torqueTicksY, tl: 9, sw: 2, fs: 14});
    drawBand(ax, torqueT, p.lo, p.hi, RED);
    const cx = (p.l + p.r) / 2;
    txt(cx, p.t - 20, speedNames[p.k], 46, 'middle');
    txt(cx, p.b + 62, 'Time(s)', 46, 'middle');
    yLabel(p.l - 54.5, (p.t + p.b) / 2, p.yl, 26);
    const [bx, by, bw, bh, fs] = p.leg;
    legBox(bx, by, bw, bh);
    legLine(bx + 4, bx + 40, by + bh / 2, RED, 2.5);
    txt(bx + 44, by + bh / 2 + fs * 0.22, speedNames[p.k], fs);
});

// ===== (c) tracking error =====
const axC = mkAxes({l: 125, r: 1367, t: 1069, b: 1795, xd: [0.045, 20], yd: [-750, 850],
    xt: ticksT20no0, yt: trackTicksY, tl: 13, sw: 2.2, fs: 14});
[track1, track2, track3, track4].forEach((s, i) => drawLine(axC, trackT, s, lineColors[i], 3.2, d3.curveMonotoneX));
const axC2 = mkAxes({l: 419.5, r: 1044.5, t: 1137.5, b: 1404, xd: [0.41, 2], yd: [-88.5, 62],
    xt: trackZoomTicksX, yt: trackZoomTicksY, tl: 7, sw: 1.4, fs: 12, col: '#333'});
[trackZoom1, trackZoom2, trackZoom3, trackZoom4].forEach((s, i) => drawLine(axC2, trackZoomT, s, lineColors[i], 3, d3.curveMonotoneX));
legBox(1101, 1079, 257, 95);
[[0, 1106, 1103, '1,ref'], [2, 1234, 1103, '3,ref'], [1, 1106, 1149, '2,ref'], [3, 1234, 1149, '4,ref']].forEach(([k, lx, ly, sub]) => {
    legLine(lx, lx + 37, ly, lineColors[k], 3.5);
    mathText(lx + 40, ly + 11.5, 'e', sub, 44, 30, 8);
});
yLabel(62, 1433, 'Speed tracking error(r/min)', 48);
txt(745, 1855, 'Time(s)', 52, 'middle');

// ===== (d) synchronization error =====
const syncSeries = [sync12, sync23, sync34, sync41];
const axD = mkAxes({l: 1748, r: 2991, t: 1073, b: 1799, xd: [0, 20], yd: [-80, 150],
    xt: ticksT20, yt: syncTicksY, tl: 13, sw: 2.2, fs: 14});
syncSeries.forEach((s, i) => drawLine(axD, syncT, s, lineColors[i], 3, d3.curveMonotoneX));
const axD2 = mkAxes({l: 2101, r: 2742, t: 1167, b: 1434, xd: [0.31, 3.3], yd: [-20, 20],
    xt: syncZoomTicksX, yt: syncZoomTicksY, tl: 7, sw: 1.4, fs: 12, col: '#333'});
syncSeries.forEach((s, i) => drawLine(axD2, syncT, s, lineColors[i], 3, d3.curveMonotoneX));
legBox(2779, 1083, 202.5, 95);
[[0, 2783.5, 1108, '1,2'], [2, 2885, 1108, '3,4'], [1, 2783.5, 1154, '2,3'], [3, 2885, 1154, '4,1']].forEach(([k, lx, ly, sub]) => {
    legLine(lx, lx + 36, ly, lineColors[k], 3.5);
    mathText(lx + 39, ly + 11, 'e', sub, 44, 30, 8);
});
yLabel(1689, 1436, 'Speed synchronization error(r/min)', 48);
txt(2368, 1861, 'Time(s)', 52, 'middle');

// ===== (e) systems input u_{i,ref} =====
const refPanels = [
    {l: 125, r: 661, t: 2092, b: 2393, yd: [-90, 2500], yt: refInputTicksY, iv: ref1i, uv: ref1u, subs: ['1,ref', '2,ref'],
        z: {l: 269, r: 589, t: 2170, b: 2347, xd: [3.95, 4], xt: e1ZoomTicksX, yd: [64.8, 65], yt: e1ZoomTicksY, bt: e1BlueT, bv: e1BlueV, rt: e1RedT, rv: e1RedV}},
    {l: 831, r: 1367, t: 2092, b: 2393, yd: [-90, 2500], yt: refInputTicksY, iv: ref2i, uv: ref2u, subs: ['2,ref', '2,ref'],
        z: {l: 975, r: 1295.5, t: 2170, b: 2347, xd: [3.92, 3.96], xt: e2ZoomTicksX, yd: [64.3, 64.5], yt: e2ZoomTicksY, bt: e2BlueT, bv: e2BlueV, rt: e2RedT, rv: e2RedV}},
    {l: 125, r: 661, t: 2514, b: 2816, yd: [-100, 2500], yt: refInputTicksY, iv: ref3i, uv: ref3u, subs: ['3,ref', '3,ref'],
        z: {l: 269.5, r: 589, t: 2591.5, b: 2768, xd: [3.96, 4], xt: e3ZoomTicksX, yd: [65.15, 65.35], yt: e3ZoomTicksY, bt: e3BlueT, bv: e3BlueV, rt: e3RedT, rv: e3RedV}},
    {l: 831, r: 1367, t: 2514, b: 2816, yd: [-95, 2000], yt: refInputTicksY4, iv: ref4i, uv: ref4u, subs: ['4,ref', '4,ref'],
        z: {l: 974, r: 1294, t: 2591, b: 2769, xd: [3.96, 4], xt: e3ZoomTicksX, yd: [63.1, 63.3], yt: e4ZoomTicksY, bt: e4BlueT, bv: e4BlueV, rt: e4RedT, rv: e4RedV}}
];
refPanels.forEach(p => {
    const ax = mkAxes({l: p.l, r: p.r, t: p.t, b: p.b, xd: [0, 20], yd: p.yd,
        xt: ticksT20, yt: p.yt, tl: 9, sw: 2, fs: 14});
    drawLine(ax, refInT, p.iv, BLUE, 5);
    drawLine(ax, refInT, p.uv, RED, 3.5);
    const z = p.z;
    const az = mkAxes({l: z.l, r: z.r, t: z.t, b: z.b, xd: z.xd, yd: z.yd,
        xt: z.xt, yt: z.yt, tl: 6, sw: 1.3, fs: 13, col: '#555', pad: 5});
    drawLine(az, z.bt, z.bv, '#2b2bff', 1.2);
    drawLine(az, z.rt, z.rv, RED, 2.6, d3.curveStepAfter);
    const bx = p.r - 292, by = p.t + 10;
    legBox(bx, by, 282, 55);
    legLine(bx + 4, bx + 40, by + 26.5, BLUE, 5);
    mathText(bx + 44, by + 41, 'i', p.subs[0], 48, 34, 10);
    legLine(bx + 140, bx + 177, by + 26.5, RED, 2.5);
    mathText(bx + 181, by + 41, 'u', p.subs[1], 48, 34, 10);
    yLabel(p.l - 64, (p.t + p.b) / 2, 'Systems Input(A)', 48);
    txt((p.l + p.r) / 2, p.b + 59, 'Time(s)', 46, 'middle');
});

// ===== (f) systems input u_{i,i+1} =====
const syncInPanels = [
    {l: 1748, r: 2283, t: 2096, b: 2400, yd: [0, 100], yt: syncInputTicksY, ts: syncInT, iv: in12i, uv: in12u, sub: '1,2',
        z: {l: 1989, r: 2229, t: 2234, b: 2367.5, xd: [3.92, 3.96], xt: f1ZoomTicksX, yd: [61.3, 61.5], yt: f1ZoomTicksY, bt: f1BlueT, bv: f1BlueV, rt: f1RedT, rv: f1RedV}},
    {l: 2453, r: 2990.5, t: 2096, b: 2400, yd: [0, 100], yt: syncInputTicksY, ts: syncInT, iv: in23i, uv: in23u, sub: '2,3',
        z: {l: 2694, r: 2934, t: 2234, b: 2367.5, xd: [3.93, 3.98], xt: f2ZoomTicksX, yd: [60, 60.2], yt: f2ZoomTicksY, bt: f2BlueT, bv: f2BlueV, rt: f2RedT, rv: f2RedV}},
    {l: 1748, r: 2283, t: 2518, b: 2821, yd: [0, 112], yt: syncInputTicksY3, ts: in34T, iv: in34i, uv: in34u, sub: '3,4',
        z: {l: 1989, r: 2229, t: 2661.5, b: 2795, xd: [3.91, 3.95], xt: f3ZoomTicksX, yd: [62.85, 63.05], yt: f3ZoomTicksY, bt: f3BlueT, bv: f3BlueV, rt: f3RedT, rv: f3RedV}},
    {l: 2453, r: 2990.5, t: 2518, b: 2821, yd: [0, 100], yt: syncInputTicksY, ts: syncInT, iv: in41i, uv: in41u, sub: '4,1',
        z: {l: 2694, r: 2934, t: 2661.5, b: 2795, xd: [3.96, 4], xt: f4ZoomTicksX, yd: [59.25, 59.45], yt: f4ZoomTicksY, bt: f4BlueT, bv: f4BlueV, rt: f4RedT, rv: f4RedV}}
];
syncInPanels.forEach(p => {
    const ax = mkAxes({l: p.l, r: p.r, t: p.t, b: p.b, xd: [0, 20], yd: p.yd,
        xt: ticksT20, yt: p.yt, tl: 9, sw: 2, fs: 14});
    drawLine(ax, p.ts, p.iv, BLUE, 4.5, d3.curveMonotoneX);
    drawLine(ax, p.ts, p.uv, RED, 2.5, d3.curveMonotoneX);
    const z = p.z;
    const az = mkAxes({l: z.l, r: z.r, t: z.t, b: z.b, xd: z.xd, yd: z.yd,
        xt: z.xt, yt: z.yt, tl: 5, sw: 1.3, fs: 12, col: '#555', pad: 4});
    drawLine(az, z.bt, z.bv, '#2b2bff', 1.1);
    drawLine(az, z.rt, z.rv, RED, 2.4, d3.curveStepAfter);
    const bx = p.r - 227.5, by = p.t + 10;
    legBox(bx, by, 218.5, 55.5);
    legLine(bx + 4, bx + 40, by + 26.5, BLUE, 5);
    mathText(bx + 43.5, by + 41, 'i', p.sub, 48, 34, 10);
    legLine(bx + 108.6, bx + 144.4, by + 26.5, RED, 2.5);
    mathText(bx + 148, by + 41, 'u', p.sub, 48, 34, 10);
    yLabel(p.l - 59, (p.t + p.b) / 2, 'Systems Input(A)', 48);
    txt((p.l + p.r) / 2, p.b + 57, 'Time(s)', 46, 'middle');
});

// ===== (g)/(h) time intervals =====
const intervalPanels = [
    {l: 124, r: 661, t: 3136, b: 3419, yd: [-0.001, 0.16], yt: intervalTicksG, k: 0, s: g1Solid, c: g1Cloud, pt: g1PeakT, pv: g1PeakV},
    {l: 831, r: 1367, t: 3136, b: 3419, yd: [-0.001, 0.16], yt: intervalTicksG, k: 1, s: g2Solid, c: g2Cloud, pt: g2PeakT, pv: g2PeakV},
    {l: 124, r: 661, t: 3557.5, b: 3840.5, yd: [-0.001, 0.16], yt: intervalTicksG, k: 2, s: g3Solid, c: g3Cloud, pt: g3PeakT, pv: g3PeakV},
    {l: 831, r: 1367, t: 3557.5, b: 3840.5, yd: [-0.001, 0.16], yt: intervalTicksG, k: 3, s: g4Solid, c: g4Cloud, pt: g4PeakT, pv: g4PeakV},
    {l: 1748, r: 2283, t: 3140, b: 3423, yd: [-0.0004, 0.08], yt: intervalTicksH, k: 0, s: h1Solid, c: h1Cloud, pt: h1PeakT, pv: h1PeakV},
    {l: 2453, r: 2990.5, t: 3140, b: 3423, yd: [-0.0004, 0.08], yt: intervalTicksH, k: 1, s: h2Solid, c: h2Cloud, pt: h2PeakT, pv: h2PeakV},
    {l: 1748, r: 2283, t: 3561, b: 3844, yd: [-0.0004, 0.08], yt: intervalTicksH, k: 2, s: h3Solid, c: h3Cloud, pt: h3PeakT, pv: h3PeakV},
    {l: 2453, r: 2990.5, t: 3561, b: 3844, yd: [-0.0004, 0.08], yt: intervalTicksH, k: 3, s: h4Solid, c: h4Cloud, pt: h4PeakT, pv: h4PeakV}
];
intervalPanels.forEach(p => {
    const ax = mkAxes({l: p.l, r: p.r, t: p.t, b: p.b, xd: [0, 20], yd: p.yd,
        xt: ticksT20, yt: p.yt, tl: 9, sw: 2, fs: 14});
    drawStems(ax, p.s, p.c, p.pt, p.pv);
    const cx = (p.l + p.r) / 2;
    txt(cx, p.t - 22, speedNames[p.k], 45, 'middle');
    txt(cx, p.b + 58, 'Time(s)', 46, 'middle');
    yLabel(p.l - 62, (p.t + p.b) / 2, 'Time(s)', 46);
    const bx = p.r - 371, by = p.t + 10;
    legBox(bx, by, 361, 55);
    legLine(bx + 5, bx + 36, by + 27.5, '#3535ff', 1.3);
    svg.append('circle').attr('cx', bx + 30).attr('cy', by + 27.5).attr('r', 4.3)
        .attr('fill', 'none').attr('stroke', '#2020ff').attr('stroke-width', 1.3);
    txt(bx + 45, by + 39, 'Time Interval(s)', 46);
});

// ===== captions =====
caption(725, 975, 'a', 'Speed of PMSMs', null, null);
caption(2332, 975, 'b', 'Electromagnetic torque of PMSMs', null, null);
caption(718, 1990, 'c', 'Tracking error', 'e', 'i,ref');
caption(2325, 1990, 'd', 'Synchronization error', 'e', 'i,i+1');
caption(740, 3017, 'e', 'Systems input of', 'u', 'i,ref');
caption(2335, 3017, 'f', 'Systems input of', 'u', 'i,i+1');
caption(715, 4040, 'g', 'Time interval', 'u', 'i,ref');
caption(2335, 4040, 'h', 'Time interval', 'u', 'i,i+1');
</script>
</body>
</html>
